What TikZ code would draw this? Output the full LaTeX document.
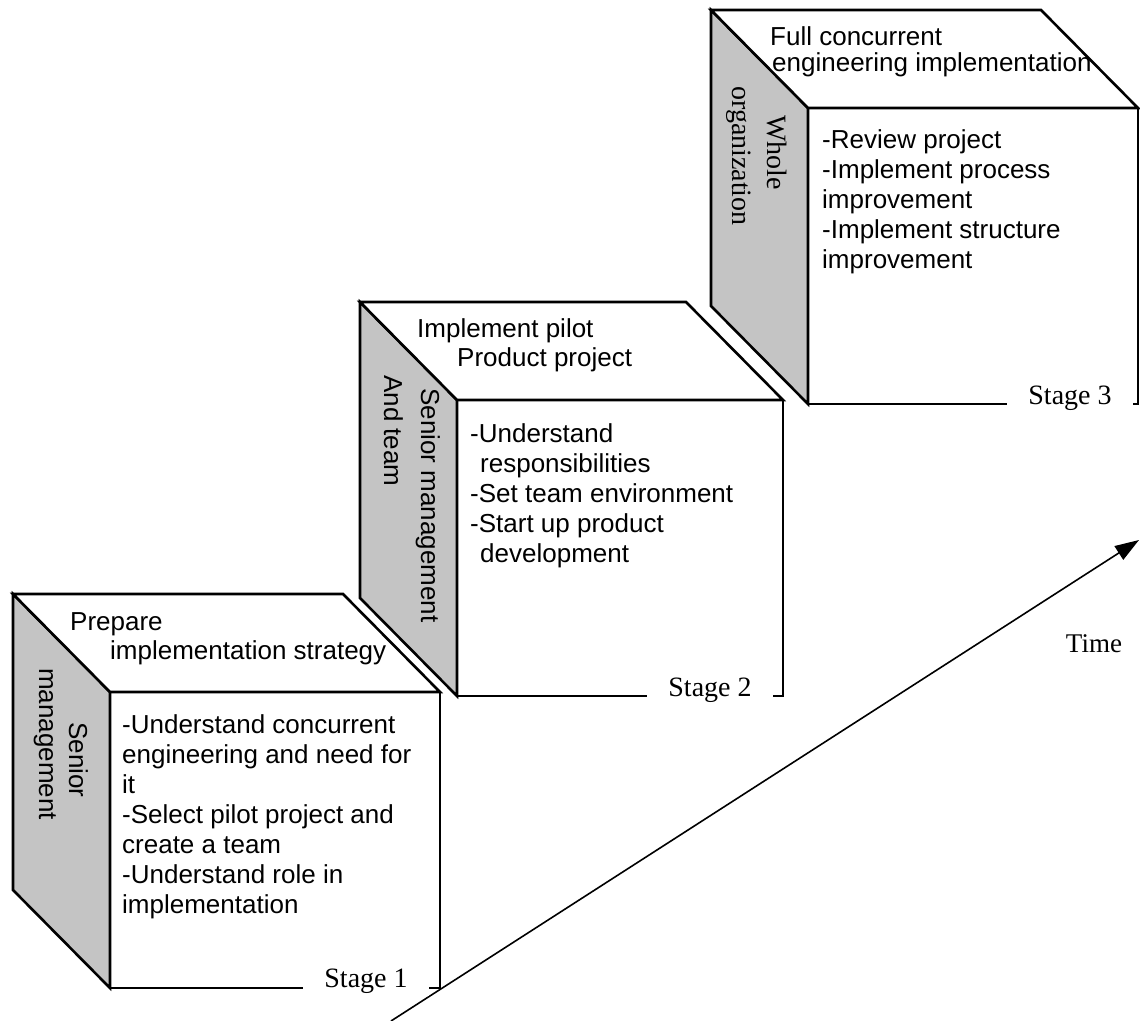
\documentclass[tikz,border=0pt]{standalone}
\usepackage{fontspec}
\setmainfont{Liberation Sans}
\newfontfamily\serifface{Liberation Serif}
\usetikzlibrary{arrows.meta}
\definecolor{facegray}{gray}{0.77}
\tikzset{
  edge/.style={line width=2.6pt, line join=miter},
  sideface/.style={edge, fill=facegray},
  plainface/.style={edge, fill=white},
  % multi-line blocks are anchored on the baseline of their last line
  bodytext/.style={font=\fontsize{26}{30}\selectfont, align=left, anchor=base west, inner sep=0pt},
  sidetext/.style={font=\fontsize{26}{30}\selectfont, anchor=base west, inner sep=0pt, rotate=-90},
  sideserif/.style={font=\serifface\fontsize{28}{32}\selectfont, anchor=base west, inner sep=0pt, rotate=-90},
  stagelabel/.style={font=\serifface\fontsize{28}{32}\selectfont, anchor=base, fill=white, inner xsep=21pt, inner ysep=3pt},
  timeline/.style={line width=1.6pt, -{Triangle[length=24pt,width=16pt]}},
  timetext/.style={font=\serifface\fontsize{27}{30}\selectfont, anchor=base, inner sep=0pt},
}
% one block: front top-left corner (x,y) and front width; depth is (97,98), height 296
\newcommand{\drawblock}[3]{%
  \fill[white] (#1,#2) rectangle ++(#3,296);
  \draw[sideface] (#1-97,#2-98) -- (#1,#2) -- (#1,#2+296) -- (#1-97,#2+198) -- cycle;
  \draw[plainface] (#1-97,#2-98) -- (#1+#3-97,#2-98) -- (#1+#3,#2) -- (#1,#2) -- cycle;
  \draw[edge] (#1,#2+296) -- (#1+#3,#2+296) -- (#1+#3,#2);
}
\begin{document}
\begin{tikzpicture}[x=1pt,y=-1pt]
\useasboundingbox (0,0) rectangle (1140,1020);

% time axis
\coordinate (tstart) at (391,1021);
\coordinate (tend) at (1139,540);
\draw[timeline] (tstart) -- (tend);
\node[timetext] (timelabel) at (1094,652) {Time};

% stage 1
\drawblock{110}{692}{330}
\node[bodytext] (s1topA) at (70,630) {Prepare};
\node[bodytext] (s1topB) at (110,659) {implementation strategy};
\node[bodytext] (s1body) at (122,913) {-Understand concurrent\\engineering and need for\\it\\-Select pilot project and\\create a team\\-Understand role in\\implementation};
\node[sidetext] (s1sideA) at (69,722) {Senior};
\node[sidetext] (s1sideB) at (39,668) {management};
\node[stagelabel] (stage1) at (366,987) {Stage 1};

% stage 2
\drawblock{457}{400}{326}
\node[bodytext] (s2topA) at (417,337) {Implement pilot};
\node[bodytext] (s2topB) at (457,366) {Product project};
\node[bodytext] (s2body) at (470,562) {-Understand\\\hspace*{10pt}responsibilities\\-Set team environment\\-Start up product\\\hspace*{10pt}development};
\node[sidetext] (s2sideA) at (421,388) {Senior management};
\node[sidetext] (s2sideB) at (384,375) {And team};
\node[stagelabel] (stage2) at (710,696) {Stage 2};

% stage 3
\drawblock{808}{108}{330}
\node[bodytext] (s3topA) at (770,45) {Full concurrent};
\node[bodytext] (s3topB) at (772,71) {engineering implementation};
\node[bodytext] (s3body) at (822,268) {-Review project\\-Implement process\\improvement\\-Implement structure\\improvement};
\node[sideserif] (s3sideA) at (767,115) {Whole};
\node[sideserif] (s3sideB) at (732,86) {organization};
\node[stagelabel] (stage3) at (1070,404) {Stage 3};
\end{tikzpicture}
\end{document}
